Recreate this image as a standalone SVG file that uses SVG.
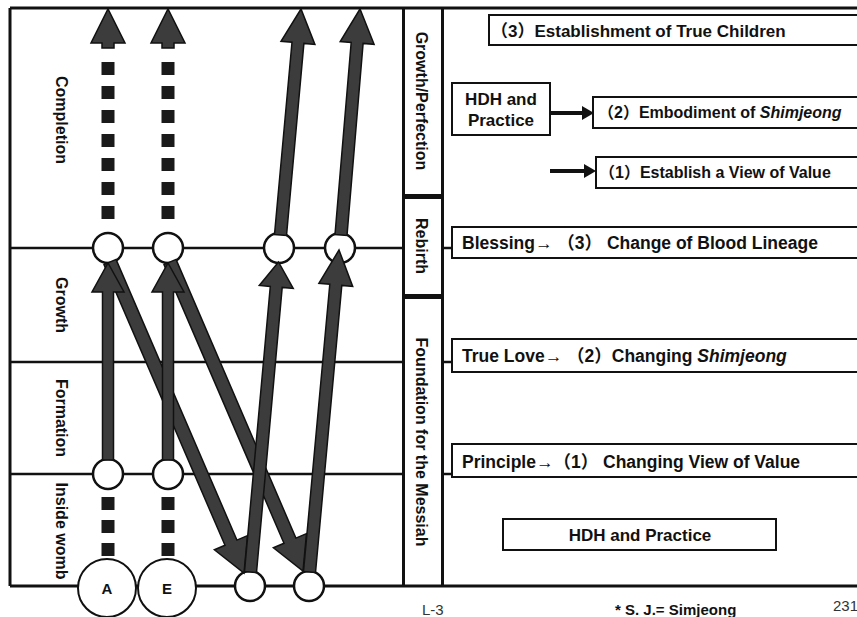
<svg xmlns="http://www.w3.org/2000/svg" width="857" height="617" viewBox="0 0 857 617">
<style>
.ln{stroke:#111;stroke-width:2.5;fill:none}
.thk{stroke:#111;stroke-width:3;fill:none}
.bx{stroke:#111;stroke-width:2;fill:#fff}
.ar{fill:#3c3c3c;stroke:#111;stroke-width:1.5;stroke-linejoin:miter}
.ci{fill:#fff;stroke:#111;stroke-width:2.5}
.t{font-family:"Liberation Sans","Noto Sans CJK SC",Arial,sans-serif;font-weight:bold;fill:#111}
.lbl{font-size:16px;text-anchor:middle}
.bt{font-size:16px}
.big{font-size:17.5px}
.it{font-style:italic}
.dash{stroke:#1a1a1a;stroke-width:13;fill:none}
</style>
<rect width="857" height="617" fill="#fff"/>
<g id="frame">
<line class="thk" x1="10" y1="8" x2="857" y2="8"/>
<line class="thk" x1="10" y1="586" x2="857" y2="586"/>
<line class="thk" x1="10" y1="8" x2="10" y2="586"/>
<line class="thk" x1="403.5" y1="8" x2="403.5" y2="586"/>
<line class="thk" x1="442.5" y1="8" x2="442.5" y2="586"/>
<line class="ln" x1="403" y1="196.5" x2="443" y2="196.5" style="stroke-width:5"/>
<line class="ln" x1="403" y1="296.5" x2="443" y2="296.5" style="stroke-width:5"/>
<line class="ln" x1="10" y1="248" x2="403" y2="248"/>
<line class="ln" x1="10" y1="362" x2="403" y2="362"/>
<line class="ln" x1="10" y1="474" x2="403" y2="474"/>
<line class="ln" x1="442" y1="248" x2="452" y2="248"/>
<line class="ln" x1="442" y1="362" x2="452" y2="362"/>
<line class="ln" x1="442" y1="474" x2="452" y2="474"/>
</g>
<g id="stage-labels">
<text class="t lbl" transform="translate(56,120) rotate(90)">Completion</text>
<text class="t lbl" transform="translate(56,305) rotate(90)">Growth</text>
<text class="t lbl" transform="translate(56,418) rotate(90)">Formation</text>
<text class="t lbl" transform="translate(56,531) rotate(90)">Inside womb</text>
<text class="t lbl" transform="translate(416,101) rotate(90)">Growth/Perfection</text>
<text class="t lbl" transform="translate(416,246) rotate(90)">Rebirth</text>
<text class="t lbl" transform="translate(416,442) rotate(90)">Foundation for the Messiah</text>
</g>
<g id="nodes">
<circle id="c-a-top" class="ci" cx="108" cy="248" r="15"/>
<circle id="c-e-top" class="ci" cx="168" cy="248" r="15"/>
<circle id="c-3-top" class="ci" cx="279" cy="248" r="15"/>
<circle id="c-4-top" class="ci" cx="340" cy="248" r="15"/>
<circle id="c-a-mid" class="ci" cx="108" cy="474" r="15"/>
<circle id="c-e-mid" class="ci" cx="168" cy="474" r="15"/>
<circle id="c-3-bot" class="ci" cx="250" cy="586" r="15"/>
<circle id="c-4-bot" class="ci" cx="309" cy="586" r="15"/>
<g id="node-a"><circle class="ci" cx="107" cy="588" r="29" style="stroke-width:2"/><text class="t" x="107" y="594" font-size="15" text-anchor="middle">A</text></g>
<g id="node-e"><circle class="ci" cx="167" cy="588" r="29" style="stroke-width:2"/><text class="t" x="167" y="594" font-size="15" text-anchor="middle">E</text></g>
</g>
<g id="connectors">
<line class="dash" x1="108" y1="62" x2="108" y2="219" stroke-dasharray="13 11"/>
<line class="dash" x1="168" y1="62" x2="168" y2="219" stroke-dasharray="13 11"/>
<polygon class="ar" points="102,48 102,43 91,43 108,9 125,43 114,43 114,48"/>
<polygon class="ar" points="162,48 162,43 151,43 168,9 185,43 174,43 174,48"/>
<line class="dash" x1="108" y1="497" x2="108" y2="556" stroke-dasharray="13 10"/>
<line class="dash" x1="168" y1="497" x2="168" y2="556" stroke-dasharray="13 10"/>
<polygon class="ar" points="116,259.4 236.9,540.1 247.5,535.6 244,573 214.4,549.8 225,545.3 104,264.6"/>
<polygon class="ar" points="176,259.4 295.9,538.1 306.5,533.6 303,571 273.4,547.8 284,543.3 164,264.6"/>
<polygon class="ar" points="102.5,460 102.5,292 92,292 108,263 124,292 113.5,292 113.5,460"/>
<polygon class="ar" points="162.5,460 162.5,292 152,292 168,263 184,292 173.5,292 173.5,460"/>
<polygon class="ar" points="244.5,571.5 270.3,286.4 259.3,285.4 278.5,262 293.2,288.4 282.2,287.4 256.5,572.5"/>
<polygon class="ar" points="303.5,571.5 329.8,284.3 318.9,283.3 339,250 352.7,286.4 341.8,285.4 315.5,572.5"/>
<polygon class="ar" points="274.5,234.5 292,42.3 281,41.3 301,9 314.9,44.4 303.9,43.4 286.5,235.5"/>
<polygon class="ar" points="335,234.5 351.2,42.4 340.2,41.5 360,9 374.1,44.3 363.1,43.4 347,235.5"/>
<line x1="550" y1="113" x2="584" y2="113" stroke="#111" stroke-width="4"/>
<polygon points="582,106 594,113 582,120" fill="#111"/>
<line x1="550" y1="171" x2="586" y2="171" stroke="#111" stroke-width="4"/>
<polygon points="584,164 596,171 584,178" fill="#111"/>
</g>
<g id="box-true-children"><rect class="bx" x="489" y="15" width="370" height="30"/><text class="t bt" x="491" y="37" style="font-size:17px">（3）Establishment of True Children</text></g>
<g id="box-hdh-top"><rect class="bx" x="452" y="83" width="98" height="52"/><text class="t" x="501" y="105" font-size="17" text-anchor="middle">HDH and</text><text class="t" x="501" y="126" font-size="17" text-anchor="middle">Practice</text></g>
<g id="box-embodiment"><rect class="bx" x="593" y="97" width="266" height="31"/><text class="t bt" x="598" y="118">（2）Embodiment of <tspan class="it">Shimjeong</tspan></text></g>
<g id="box-view-value"><rect class="bx" x="596" y="157" width="263" height="31"/><text class="t bt" x="599" y="178">（1）Establish a View of Value</text></g>
<g id="box-blessing"><rect class="bx" x="452" y="227" width="407" height="31"/><text class="t big" x="462" y="249">Blessing→ （3） Change of Blood Lineage</text></g>
<g id="box-true-love"><rect class="bx" x="452" y="339" width="407" height="33"/><text class="t big" x="462" y="362">True Love→ （2）Changing <tspan class="it">Shimjeong</tspan></text></g>
<g id="box-principle"><rect class="bx" x="452" y="444" width="407" height="33"/><text class="t big" x="462" y="468">Principle→（1） Changing View of Value</text></g>
<g id="box-hdh-bottom"><rect class="bx" x="503" y="519" width="273" height="31"/><text class="t" x="640" y="541" font-size="17" text-anchor="middle">HDH and Practice</text></g>
<g id="footer">
<text x="422" y="615" font-family="Liberation Sans, Arial, sans-serif" font-size="15" fill="#333">L-3</text>
<text class="t" x="615" y="615" font-size="15">* S. J.= Simjeong</text>
<text x="833" y="611" font-family="Liberation Sans, Arial, sans-serif" font-size="15" fill="#333">231</text>
</g>
</svg>
